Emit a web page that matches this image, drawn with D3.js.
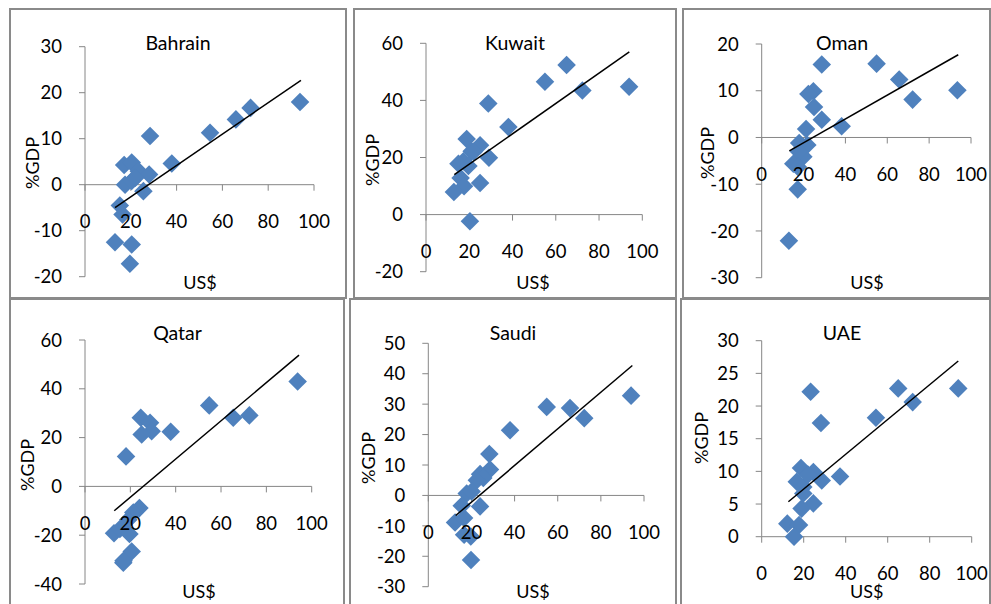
<!DOCTYPE html>
<html>
<head>
<meta charset="utf-8">
<script src="https://cdn.jsdelivr.net/npm/d3@7"></script>
<style>
body{margin:0;background:#fff;}
text{font-family:Lato,'Open Sans',sans-serif;fill:#000;}
</style>
</head>
<body>
<svg id="chart" width="991" height="604"></svg>
<script>
//data: [oil price US$, balance %GDP]
var countries = ['Bahrain','Kuwait','Oman','Qatar','Saudi','UAE'];

var bahrain = [[93.9,18.0],[72.3,16.7],[65.9,14.2],[54.6,11.3],[28.4,10.6],[37.9,4.6],[17.1,4.3],[20.4,4.8],
	[23.5,2.9],[28,2.2],[25.5,-1.4],[17.5,0],[20.4,0.8],[15.2,-4.5],[16.4,-6.5],[13.1,-12.5],[20.4,-13],[19.6,-17.2],[22,1.5]];
var kuwait = [[93.9,44.8],[65,52.4],[72.3,43.5],[55,46.5],[28.8,38.9],[38.1,30.7],[18.8,26.5],[25,24.3],
	[21.1,22.2],[29.1,19.9],[17.3,18.7],[15,17.8],[19.6,17],[16,12.8],[17.6,9.9],[12.9,7.9],[25,11.1],[20.3,-2.3],[22,22]];
var oman = [[93.5,10.1],[65.7,12.4],[72.1,8.1],[54.9,15.8],[28.7,15.6],[38.2,2.4],[28.7,3.8],[24.7,9.9],
	[22.3,9.3],[25,6.5],[21.2,1.8],[21.8,-1.6],[17.9,-1.2],[19.9,-4.1],[17.7,-3],[15.1,-5.6],[17.2,-11.1],[13,-22.1],[17.3,-6.3]];
var qatar = [[93.8,43],[54.8,33.2],[65.4,28.1],[72.5,29.1],[37.8,22.4],[24.6,28.1],[28.7,26.1],[29.4,22.6],
	[25,21.3],[18.1,12.3],[24,-8.9],[21.3,-10.7],[19.1,-13.7],[12.8,-19.2],[15.4,-17.5],[19.6,-19.5],[20.6,-26.7],[16.9,-31.3],[17,-30.5]];
var saudi = [[94,32.8],[54.9,29.1],[65.7,28.7],[72.3,25.4],[37.9,21.4],[28.3,13.6],[28.6,8.5],[24,7],
	[25.5,5.7],[22.5,5],[17.8,0.6],[20.1,1.3],[24,-3.6],[15.5,-3.4],[12.4,-8.9],[16.6,-7.4],[16.6,-12.9],[19.7,-13.5],[19.8,-21.2]];
var uae = [[93.6,22.7],[65,22.7],[71.9,20.6],[54.4,18.2],[28.2,17.4],[23.3,22.2],[37.3,9.2],[28.6,8.6],
	[24.6,9.9],[18.7,10.5],[16.7,8.4],[19.8,7.6],[19.8,6.6],[24.6,5.1],[19,4.3],[12.2,2],[17.8,1.8],[15.4,0],[22,9.5]];
var series = [bahrain,kuwait,oman,qatar,saudi,uae];

//fitted lines as drawn (start, end)
var trendLines = [[[13.1,-5.0],[94.3,22.7]],[[13.1,14.0],[94.0,57.0]],[[13.2,-2.85],[93.9,17.7]],
	[[12.9,-10.0],[94.4,53.8]],[[12.7,-6.6],[94.6,42.7]],[[12.7,5.35],[93.6,26.9]]];

var yDomains = [[-20,30],[-20,60],[-30,20],[-40,60],[-30,50],[0,30]];
var yTickSteps = [10,20,10,20,10,5];
var xTicks = [0,20,40,60,80,100];

//panel layout
var panels = [
	{box:[10,9,346,298], x:[85,314], y:[276.7,46.7], title:[178,43], yl:[33,163], xl:[200,283]},
	{box:[354,9,676,298], x:[426,642.3], y:[271.7,43.3], title:[515,43], yl:[373,160], xl:[533,283]},
	{box:[683,9,990,298], x:[761.7,971], y:[277.7,44], title:[842,43], yl:[708,153], xl:[867,283]},
	{box:[10,299,344,612], x:[85,311.7], y:[584,340], title:[177.5,332.7], yl:[28,465], xl:[199,591.7]},
	{box:[350,299,676,612], x:[428.3,644], y:[586.7,343.3], title:[513,333], yl:[369,458], xl:[533,591.7]},
	{box:[681,299,990,612], x:[761.7,971.7], y:[536.7,340.7], title:[842,333], yl:[701.7,438], xl:[866.7,591.7]}
];

var svg = d3.select('#chart');
var axisCol = '#868686';
var diamond = d3.symbol().type(d3.symbolSquare).size(172);
var line = d3.line();

panels.forEach(function(p,i){
	var g = svg.append('g');

	g.append('rect')
		.attr('x',p.box[0]).attr('y',p.box[1])
		.attr('width',p.box[2]-p.box[0]).attr('height',p.box[3]-p.box[1])
		.style('fill','#fff').style('stroke','#8a8a8a').style('stroke-width',2);

	var x = d3.scaleLinear().domain([0,100]).range(p.x);
	var y = d3.scaleLinear().domain(yDomains[i]).range(p.y);
	var yTicks = d3.range(yDomains[i][0],yDomains[i][1]+0.001,yTickSteps[i]);

	//y axis
	g.append('line')
		.attr('x1',x(0)).attr('x2',x(0)).attr('y1',y.range()[0]).attr('y2',y.range()[1])
		.style('stroke',axisCol);
	g.selectAll('.ytick').data(yTicks).enter().append('line')
		.attr('x1',x(0)-6).attr('x2',x(0)).attr('y1',function(d){return y(d)}).attr('y2',function(d){return y(d)})
		.style('stroke',axisCol);
	g.selectAll('.ylab').data(yTicks).enter().append('text')
		.attr('x',x(0)-23).attr('y',function(d){return y(d)}).attr('dy','0.36em')
		.attr('text-anchor','end').style('font-size','18.5px')
		.text(function(d){return d});

	//x axis at y=0
	g.append('line')
		.attr('x1',x(0)).attr('x2',x(100)).attr('y1',y(0)).attr('y2',y(0))
		.style('stroke',axisCol);
	g.selectAll('.xtick').data(xTicks).enter().append('line')
		.attr('x1',function(d){return x(d)}).attr('x2',function(d){return x(d)})
		.attr('y1',y(0)).attr('y2',y(0)+6)
		.style('stroke',axisCol);

	//points
	g.selectAll('.pt').data(series[i]).enter().append('path')
		.attr('d',diamond)
		.attr('transform',function(d){return 'translate('+x(d[0])+','+y(d[1])+') rotate(45)'})
		.style('fill','#4f81bd');

	g.selectAll('.xlab').data(xTicks).enter().append('text')
		.attr('x',function(d){return x(d)}).attr('y',y(0)+37).attr('dy','0.36em')
		.attr('text-anchor','middle').style('font-size','18.5px')
		.text(function(d){return d});

	//trend line
	g.append('path')
		.attr('d',line(trendLines[i].map(function(d){return [x(d[0]),y(d[1])]})))
		.style('fill','none').style('stroke','#000').style('stroke-width',1.5);

	//titles
	g.append('text').attr('x',p.title[0]).attr('y',p.title[1]).attr('dy','0.36em')
		.attr('text-anchor','middle').style('font-size','19.5px').text(countries[i]);
	g.append('text')
		.attr('transform','translate('+p.yl[0]+','+p.yl[1]+') rotate(-90)')
		.attr('dy','0.36em').attr('text-anchor','middle').style('font-size','18px').text('%GDP');
	g.append('text').attr('x',p.xl[0]).attr('y',p.xl[1]).attr('dy','0.36em')
		.attr('text-anchor','middle').style('font-size','18px').text('US$');
});
</script>
</body>
</html>
